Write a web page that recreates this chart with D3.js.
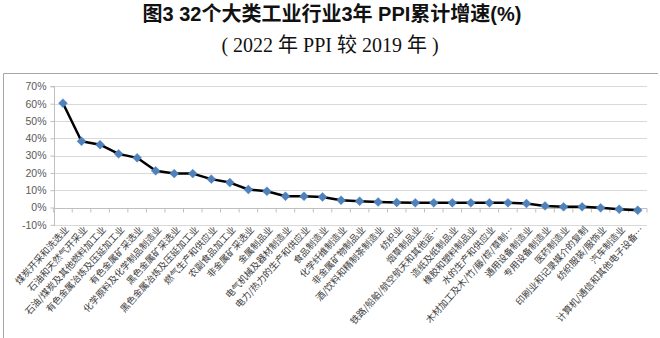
<!DOCTYPE html>
<html><head><meta charset="utf-8">
<script src="https://cdn.jsdelivr.net/npm/d3@7"></script>
<style>
html,body{margin:0;padding:0;background:#fff;}
svg{display:block;}
</style></head>
<body>
<svg id="c" width="660" height="338"></svg>
<script>
const categories = [
  "煤炭开采和洗选业","石油和天然气开采业","石油/煤炭及其他燃料加工业","有色金属冶炼及压延加工业",
  "有色金属矿采选业","化学原料及化学制品制造业","黑色金属矿采选业","黑色金属冶炼及压延加工业",
  "燃气生产和供应业","农副食品加工业","非金属矿采选业","金属制品业",
  "电气机械及器材制造业","电力/热力的生产和供应业","食品制造业","化学纤维制造业",
  "非金属矿物制品业","酒/饮料和精制茶制造业","纺织业","烟草制品业",
  "铁路/船舶/航空航天和其他运…","造纸及纸制品业","橡胶和塑料制品业","水的生产和供应业",
  "木材加工及木/竹/藤/棕/草制…","通用设备制造业","专用设备制造业","医药制造业",
  "印刷业和记录媒介的复制","纺织服装/服饰业","汽车制造业","计算机/通信和其他电子设备…"
];
const growth = [
  60.3, 38.3, 36.3, 31.0, 28.7, 21.2, 19.6, 19.6,
  16.4, 14.4, 10.4, 9.4, 6.5, 6.5, 6.1, 4.2,
  3.6, 3.2, 2.9, 2.7, 2.7, 2.7, 2.7, 2.7,
  2.7, 2.3, 0.9, 0.4, 0.4, -0.2, -1.0, -1.6
];
const yTicks = [-10, 0, 10, 20, 30, 40, 50, 60, 70];
const titleText = "图3 32个大类工业行业3年 PPI累计增速(%)";
const subtitleText = "( 2022 年 PPI 较 2019 年 )";

const svg = d3.select("#c");
const pLeft = 53.7, pRight = 647, pTop = 86.4, pBottom = 224.8;

// border (left + top)
svg.append("line").attr("x1",3.5).attr("x2",3.5).attr("y1",73.5).attr("y2",338).attr("stroke","#a6a6a6").attr("stroke-width",1);
svg.append("line").attr("x1",3.5).attr("x2",658).attr("y1",73.5).attr("y2",73.5).attr("stroke","#a6a6a6").attr("stroke-width",1);

svg.append("text").attr("x",332).attr("y",21).attr("text-anchor","middle")
  .attr("font-family","'Liberation Sans','Noto Sans CJK SC',sans-serif").attr("font-size",20).attr("font-weight","bold")
  .attr("fill","#111").text(titleText);
svg.append("text").attr("x",330).attr("y",52).attr("text-anchor","middle")
  .attr("font-family","'Liberation Serif','Noto Sans CJK SC',serif").attr("font-size",20)
  .attr("fill","#111").text(subtitleText);

const x = d3.scaleBand().domain(categories).range([pLeft, pRight]).padding(0);
const y = d3.scaleLinear().domain([-10, 70]).range([pBottom, pTop]);

// gridlines
svg.append("g").selectAll("line").data(yTicks).join("line")
  .attr("x1", pLeft).attr("x2", pRight)
  .attr("y1", d => Math.round(y(d))+0.5).attr("y2", d => Math.round(y(d))+0.5)
  .attr("stroke", "#d9d9d9").attr("stroke-width", 1);

// y axis
const yAxis = d3.axisLeft(y).tickValues(yTicks).tickFormat(d => d + "%").tickSize(4).tickPadding(4);
const gy = svg.append("g").attr("transform", `translate(${Math.round(pLeft)+0.5},0)`).call(yAxis);
gy.selectAll("path,line").attr("stroke","#bfbfbf");
gy.selectAll("text").attr("font-family","'Liberation Sans',Arial,sans-serif").attr("font-size",10.5).attr("fill","#595959");
gy.select(".domain").attr("d", `M-4,${Math.round(y(70))+0.5}H0V${Math.round(y(-10))+0.5}`);

// x axis at 0 with ticks between categories
const zy = Math.round(y(0))+0.5;
svg.append("line").attr("x1",pLeft).attr("x2",pRight).attr("y1",zy).attr("y2",zy).attr("stroke","#bfbfbf");
svg.append("g").selectAll("line").data(categories.concat(["__end"])).join("line")
  .attr("x1", (d,i) => pLeft + i*x.bandwidth()).attr("x2", (d,i) => pLeft + i*x.bandwidth())
  .attr("y1", zy).attr("y2", zy+4).attr("stroke","#bfbfbf");

// x labels
svg.append("g").selectAll("text").data(categories).join("text")
  .attr("transform", d => `translate(${x(d)+x.bandwidth()/2+4},${pBottom+3}) rotate(-48)`)
  .attr("text-anchor","end").attr("dy","0.35em")
  .attr("font-family","'Noto Sans CJK SC',sans-serif").attr("font-size",9.3)
  .attr("fill","#3a3a3a").text(d => d);

// line
const line = d3.line().x((d,i) => x(categories[i]) + x.bandwidth()/2).y(d => y(d));
svg.append("path").datum(growth).attr("d", line).attr("fill","none").attr("stroke","#000").attr("stroke-width",2.5).attr("stroke-linejoin","round");

// markers
svg.append("g").selectAll("path").data(growth).join("path")
  .attr("transform", (d,i) => `translate(${x(categories[i]) + x.bandwidth()/2},${y(d)})`)
  .attr("d", d3.symbol(d3.symbolDiamond2, 50)())
  .attr("fill","#4f81bd").attr("stroke","#4f81bd").attr("stroke-width",0.5);
</script>
</body></html>
